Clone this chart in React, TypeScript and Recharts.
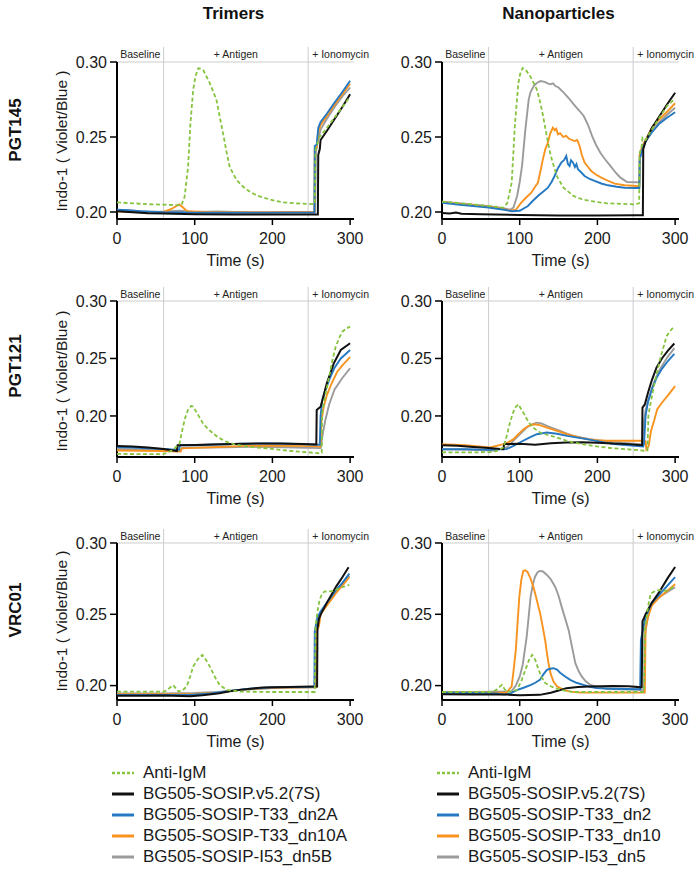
import React from 'react';
import { LineChart, Line, XAxis, YAxis, ReferenceLine, ReferenceArea } from 'recharts';

type Pair = [number, number];

const columnTitles = ['Trimers', 'Nanoparticles'];
const rowTitles = ['PGT145', 'PGT121', 'VRC01'];
const yAxisTitle = 'Indo-1 ( Violet/Blue )';
const xAxisTitle = 'Time (s)';
const yTicks = [0.2, 0.25, 0.3];
const xTicks = [0, 100, 200, 300];
const phaseMarks = [60, 246];
const phaseLabels = ['Baseline', '+ Antigen', '+ Ionomycin'];
const legendTrimers = ['Anti-IgM', 'BG505-SOSIP.v5.2(7S)', 'BG505-SOSIP-T33_dn2A', 'BG505-SOSIP-T33_dn10A', 'BG505-SOSIP-I53_dn5B'];
const legendNano = ['Anti-IgM', 'BG505-SOSIP.v5.2(7S)', 'BG505-SOSIP-T33_dn2', 'BG505-SOSIP-T33_dn10', 'BG505-SOSIP-I53_dn5'];

// ---------- Trimers / PGT145 ----------
const triPGT145_antiIgM: Pair[] = [[0,0.2064],[20,0.2058],[40,0.2052],[60,0.2049],[75,0.2046],[83,0.2046],[87,0.2102],[91.5,0.2302],[94.5,0.2591],[98,0.2813],[101,0.2905],[104.5,0.2958],[108,0.2955],[111,0.2945],[115,0.2905],[119.5,0.2858],[124,0.28],[128,0.2747],[132,0.264],[136.5,0.2524],[141,0.24],[145,0.2302],[150,0.225],[154,0.2213],[162,0.217],[171,0.2135],[180,0.211],[192,0.2091],[203,0.2075],[214,0.2064],[230,0.2058],[252,0.2053],[254.5,0.2055],[255.5,0.2413],[259,0.248],[261,0.2502],[270,0.256],[280,0.263],[290,0.27],[299,0.2762]];
const triPGT145_v52: Pair[] = [[0,0.2005],[20,0.1998],[40,0.1992],[60,0.199],[100,0.1985],[150,0.1983],[200,0.1983],[250,0.1984],[258.5,0.1984],[259,0.238],[261,0.242],[262,0.248],[270,0.254],[280,0.262],[290,0.27],[300,0.2785]];
const triPGT145_dn2A: Pair[] = [[0,0.2015],[15,0.2012],[30,0.2005],[50,0.2],[60,0.1998],[80,0.1997],[100,0.1995],[150,0.1995],[200,0.1996],[254,0.1997],[254.5,0.244],[257,0.245],[259,0.256],[262,0.26],[270,0.2655],[280,0.273],[290,0.28],[300,0.2875]];
const triPGT145_dn10A: Pair[] = [[0,0.2005],[30,0.2],[60,0.2],[70,0.202],[80,0.205],[85,0.203],[90,0.2005],[120,0.1998],[200,0.1998],[254,0.1998],[254.5,0.242],[257,0.243],[259,0.253],[262,0.258],[270,0.264],[280,0.2715],[290,0.2785],[300,0.2855]];
const triPGT145_dn5B: Pair[] = [[0,0.201],[20,0.2008],[40,0.2002],[60,0.2003],[80,0.2008],[100,0.2],[130,0.2004],[160,0.1998],[190,0.1995],[220,0.2],[255,0.2002],[256,0.24],[259,0.248],[262,0.255],[270,0.262],[280,0.27],[290,0.277],[300,0.283]];

// ---------- Nanoparticles / PGT145 ----------
const nanoPGT145_antiIgM: Pair[] = [[0,0.2069],[20,0.206],[40,0.205],[60,0.204],[79,0.2029],[84,0.206],[89.7,0.2195],[94,0.2595],[98.3,0.286],[101,0.293],[103.8,0.296],[108,0.2945],[113.3,0.2907],[118,0.286],[121.9,0.2818],[125,0.276],[128.4,0.2684],[131.5,0.26],[134.8,0.2507],[138,0.242],[141.3,0.2351],[147.7,0.224],[156.3,0.2162],[169.2,0.2107],[180,0.2085],[190.6,0.2073],[212,0.2058],[246.4,0.2051],[253.7,0.2058],[254.5,0.2395],[257,0.244],[258,0.2495],[262,0.248],[270,0.255],[280,0.263],[290,0.271],[300,0.2755]];
const nanoPGT145_v52: Pair[] = [[0,0.1993],[10,0.199],[18,0.1996],[25,0.1988],[50,0.1985],[100,0.198],[150,0.1977],[200,0.1977],[250,0.1978],[258.5,0.1978],[259,0.242],[262,0.247],[270,0.256],[280,0.264],[290,0.272],[300,0.2795]];
const nanoPGT145_dn2: Pair[] = [[0,0.2062],[20,0.205],[40,0.204],[60,0.203],[80,0.2015],[90,0.2005],[100,0.2008],[110.6,0.204],[117,0.2075],[123.4,0.2107],[130,0.2135],[136.3,0.2162],[141,0.22],[144.9,0.224],[149,0.229],[153.5,0.2329],[157,0.2345],[159.9,0.2373],[162,0.232],[164.2,0.2307],[166,0.2345],[168.5,0.233],[171,0.23],[173,0.232],[174.9,0.2285],[178,0.227],[183.5,0.224],[190,0.222],[196.4,0.2207],[205,0.219],[213.6,0.2178],[225,0.2168],[235.1,0.2162],[250.8,0.216],[254,0.216],[254.5,0.235],[258,0.242],[262,0.247],[270,0.253],[280,0.259],[290,0.263],[300,0.2665]];
const nanoPGT145_dn10: Pair[] = [[0,0.2065],[20,0.2055],[40,0.2045],[60,0.2035],[80,0.2018],[88,0.2008],[95,0.2015],[102,0.2062],[108,0.2095],[114.9,0.2129],[120,0.217],[123.4,0.2195],[127,0.228],[129.8,0.2351],[133,0.242],[136.3,0.2462],[139,0.252],[142.7,0.2562],[145,0.2545],[147,0.2555],[149.2,0.2518],[152,0.2525],[156,0.25],[159.9,0.2507],[163,0.249],[167,0.248],[170.6,0.2473],[174,0.248],[177.1,0.244],[180,0.238],[183.5,0.2329],[188,0.23],[192.1,0.2273],[198,0.225],[205,0.2229],[213,0.221],[222.2,0.2189],[235,0.2178],[250.8,0.2173],[254,0.2172],[254.5,0.238],[258,0.244],[262,0.248],[270,0.256],[280,0.262],[290,0.267],[300,0.2725]];
const nanoPGT145_dn5: Pair[] = [[0,0.2069],[20,0.2058],[40,0.2048],[60,0.2038],[79,0.2025],[88,0.2015],[92,0.203],[96.7,0.2107],[100,0.22],[103,0.2307],[107.3,0.2551],[111.6,0.2751],[114,0.28],[118,0.284],[122,0.286],[126.6,0.2873],[132,0.2868],[136,0.2858],[139.4,0.2851],[143,0.2858],[146,0.284],[150,0.283],[156.6,0.2796],[163,0.276],[169.5,0.2718],[176,0.268],[182.4,0.264],[188,0.258],[193.1,0.2507],[198,0.245],[203.8,0.2395],[210,0.235],[216.7,0.2307],[223,0.2265],[229.6,0.2229],[238.2,0.22],[250,0.2198],[254,0.2198],[254.5,0.238],[258,0.244],[262,0.248],[270,0.254],[280,0.26],[290,0.265],[300,0.2695]];

// ---------- Trimers / PGT121 ----------
const triPGT121_antiIgM: Pair[] = [[0,0.167],[30,0.1668],[60,0.1668],[72,0.1704],[80.6,0.1762],[84.9,0.1907],[88,0.199],[91.3,0.2052],[95.6,0.2087],[98,0.208],[102,0.2037],[106,0.199],[110.6,0.1936],[116,0.1895],[123.4,0.1849],[131,0.181],[140.6,0.1776],[150,0.1755],[162,0.1739],[175,0.1728],[192,0.1719],[210,0.1705],[235,0.1689],[260.6,0.1675],[263.5,0.168],[264,0.2023],[268,0.218],[273,0.234],[277,0.248],[281.5,0.2603],[286,0.268],[290,0.2733],[295,0.276],[300,0.2777]];
const triPGT121_v52: Pair[] = [[0,0.1739],[20,0.1735],[40,0.1725],[60,0.1712],[77,0.1695],[78,0.1745],[100,0.1748],[120,0.1752],[150,0.1755],[180,0.176],[210,0.176],[240,0.1755],[256.5,0.1752],[257,0.2052],[262,0.208],[266,0.218],[270,0.2284],[279,0.2458],[288,0.2574],[300,0.2632]];
const triPGT121_dn2A: Pair[] = [[0,0.173],[20,0.1725],[40,0.1718],[60,0.1712],[80,0.1705],[81,0.1745],[100,0.1745],[130,0.1752],[160,0.1758],[190,0.176],[220,0.1758],[250,0.1752],[261,0.175],[262,0.2],[264,0.213],[268,0.222],[274,0.233],[280,0.242],[288,0.25],[300,0.2574]];
const triPGT121_dn10A: Pair[] = [[0,0.17],[30,0.1698],[60,0.1695],[82,0.169],[83,0.1718],[100,0.1722],[130,0.173],[160,0.1738],[190,0.1742],[220,0.174],[250,0.1738],[262,0.1735],[263,0.195],[266,0.208],[270,0.218],[276,0.228],[283,0.238],[290,0.244],[300,0.2511]];
const triPGT121_dn5B: Pair[] = [[0,0.1712],[30,0.1708],[60,0.1705],[82,0.17],[84,0.1722],[110,0.1725],[140,0.1728],[170,0.1732],[200,0.173],[230,0.1725],[262,0.172],[263,0.176],[265,0.185],[268,0.196],[273,0.21],[280,0.223],[290,0.233],[300,0.2415]];

// ---------- Nanoparticles / PGT121 ----------
const nanoPGT121_antiIgM: Pair[] = [[0,0.1683],[30,0.1683],[61.8,0.1685],[70,0.1695],[79,0.1726],[83,0.182],[87.5,0.1942],[91,0.202],[94,0.2073],[98.3,0.2101],[101,0.207],[104.7,0.2029],[109,0.1975],[113.3,0.1928],[119,0.189],[126.2,0.1856],[137,0.1832],[147.6,0.1813],[158,0.179],[169,0.1769],[185,0.175],[199,0.1735],[218,0.172],[237.7,0.1711],[261.3,0.1697],[264.5,0.17],[265.6,0.2],[267.7,0.2087],[274,0.23],[280.6,0.2492],[289,0.2694],[295,0.275],[299,0.278]];
const nanoPGT121_v52: Pair[] = [[0,0.1746],[20,0.174],[40,0.173],[60,0.1722],[79,0.1711],[80,0.1755],[100,0.1758],[120,0.175],[140,0.1762],[160,0.177],[180,0.1772],[200,0.1768],[220,0.176],[240,0.1755],[257.5,0.1746],[258,0.2073],[261,0.21],[265,0.22],[270,0.231],[276,0.242],[283,0.25],[291,0.257],[299,0.263]];
const nanoPGT121_dn2: Pair[] = [[0,0.1711],[30,0.1711],[60,0.1705],[83,0.1711],[92,0.174],[100,0.1769],[113,0.1813],[122,0.1841],[135,0.1856],[148,0.1845],[161,0.1827],[186,0.1798],[205,0.1775],[221,0.1755],[240,0.1745],[259,0.1735],[260,0.176],[262,0.2],[265,0.212],[270,0.223],[276,0.233],[283,0.241],[291,0.248],[299,0.254]];
const nanoPGT121_dn10: Pair[] = [[0,0.1755],[30,0.1745],[62,0.1726],[79,0.1755],[85,0.177],[92,0.1798],[98,0.184],[105,0.1885],[111,0.1912],[118,0.1928],[126,0.192],[135,0.1899],[148,0.187],[161,0.1841],[173,0.182],[186,0.1798],[199,0.179],[212,0.1784],[235,0.1784],[259,0.1784],[262,0.178],[263,0.171],[266,0.174],[269,0.187],[273,0.196],[277,0.2058],[283,0.2115],[290,0.2173],[300,0.226]];
const nanoPGT121_dn5: Pair[] = [[0,0.1711],[30,0.1708],[66,0.17],[83,0.1726],[90,0.177],[96,0.1813],[103,0.186],[109,0.1899],[115,0.1925],[122,0.1942],[128,0.1935],[135,0.1913],[144,0.189],[152,0.187],[160,0.1848],[169,0.1827],[180,0.181],[190.5,0.1798],[212,0.1778],[235,0.1765],[255,0.1755],[258,0.1752],[259,0.19],[262,0.205],[266,0.215],[272,0.228],[280,0.24],[290,0.251],[299,0.259]];

// ---------- Trimers / VRC01 ----------
const triVRC01_antiIgM: Pair[] = [[0,0.1958],[30,0.1958],[60,0.1958],[64,0.1965],[68,0.1985],[72.2,0.2003],[76,0.198],[79,0.1958],[84,0.1965],[89.6,0.1993],[94,0.206],[98,0.2133],[104,0.2185],[109.8,0.2215],[114,0.2185],[119.5,0.2133],[126,0.206],[132,0.2005],[141,0.197],[158,0.1958],[200,0.1955],[254.5,0.1955],[255.5,0.2414],[258,0.252],[260.7,0.2601],[264,0.2645],[267,0.2659],[278,0.2663],[286,0.2683],[299,0.2706]];
const triVRC01_v52: Pair[] = [[0,0.1928],[30,0.1928],[60,0.193],[94,0.1925],[110,0.1932],[132,0.1947],[145,0.196],[158,0.197],[175,0.198],[188,0.1986],[220,0.199],[252,0.1993],[257.5,0.1993],[258,0.24],[260,0.247],[263,0.2508],[270,0.258],[282,0.2694],[290,0.276],[298,0.283]];
const triVRC01_dn2A: Pair[] = [[0,0.1935],[60,0.1935],[94,0.1935],[120,0.1945],[145,0.1962],[170,0.1978],[200,0.1988],[254,0.1992],[254.5,0.238],[258,0.248],[262,0.252],[270,0.258],[282,0.267],[290,0.272],[299,0.2785]];
const triVRC01_dn10A: Pair[] = [[0,0.194],[60,0.194],[100,0.1942],[130,0.195],[160,0.1972],[200,0.1985],[256,0.199],[257,0.238],[260,0.242],[262,0.25],[270,0.256],[282,0.265],[290,0.27],[299,0.276]];
const triVRC01_dn5B: Pair[] = [[0,0.1945],[60,0.1945],[100,0.1948],[130,0.1955],[160,0.197],[200,0.1982],[256,0.1988],[257,0.24],[261,0.25],[270,0.258],[282,0.266],[290,0.271],[299,0.277]];

// ---------- Nanoparticles / VRC01 ----------
const nanoVRC01_antiIgM: Pair[] = [[0,0.1955],[40,0.1955],[62,0.1955],[70,0.197],[77,0.2005],[80,0.198],[83.5,0.1955],[90,0.196],[96.5,0.197],[102,0.203],[107.3,0.211],[112,0.218],[116,0.2215],[120,0.218],[124.5,0.211],[128,0.206],[133,0.2017],[140,0.1995],[146,0.1982],[155,0.1968],[169.6,0.1955],[220,0.1955],[260,0.1955],[261,0.2389],[265,0.255],[268.5,0.2646],[277,0.2669],[290,0.2665],[300,0.27]];
const nanoVRC01_v52: Pair[] = [[0,0.194],[40,0.1938],[83,0.1937],[100,0.1932],[126,0.1935],[140,0.195],[150,0.1965],[160,0.1982],[175,0.199],[190,0.1993],[205,0.1996],[220,0.1998],[240,0.1995],[257,0.1988],[258,0.245],[262,0.25],[270,0.258],[280,0.266],[290,0.275],[300,0.2832]];
const nanoVRC01_dn2: Pair[] = [[0,0.195],[40,0.1948],[70,0.1945],[80,0.1937],[88,0.1945],[97,0.197],[105,0.1985],[114.5,0.2005],[120,0.202],[126,0.204],[130,0.2075],[135,0.211],[139,0.2118],[143.5,0.2122],[148,0.2112],[152,0.209],[158,0.2065],[165,0.204],[173,0.202],[182,0.2005],[190,0.1992],[199,0.1982],[220,0.1978],[255,0.1975],[256,0.232],[259,0.24],[262,0.248],[270,0.258],[280,0.264],[290,0.27],[300,0.276]];
const nanoVRC01_dn10: Pair[] = [[0,0.1951],[40,0.1951],[83,0.1951],[89.6,0.1993],[92,0.21],[95,0.225],[97,0.242],[99.5,0.2622],[102,0.274],[104.6,0.2804],[107,0.2808],[110,0.2797],[114,0.275],[117.7,0.2692],[122,0.26],[126.3,0.2506],[130,0.24],[132.7,0.232],[135,0.223],[137,0.2157],[140,0.208],[143.5,0.2028],[148,0.1995],[156.4,0.197],[165,0.1958],[178,0.1951],[220,0.1951],[261,0.1951],[262,0.24],[265,0.248],[270,0.256],[280,0.262],[290,0.2665],[300,0.2711]];
const nanoVRC01_dn5: Pair[] = [[0,0.1955],[40,0.1955],[89.6,0.196],[95,0.2],[100,0.2063],[104,0.215],[109,0.2343],[111.5,0.248],[114,0.2622],[117,0.271],[119.6,0.2762],[123,0.2795],[126,0.2804],[130,0.28],[135,0.2776],[140,0.2745],[145.7,0.2692],[150,0.263],[154,0.2552],[158,0.248],[163,0.2389],[167,0.228],[171.6,0.2157],[176,0.21],[180,0.2063],[185,0.203],[191,0.2005],[200,0.199],[212.5,0.1975],[240,0.1972],[255.5,0.1971],[260,0.1965],[261,0.235],[264,0.245],[268,0.255],[275,0.26],[285,0.264],[300,0.269]];

// y-axis ranges of each row (value at plot bottom, value at plot top)
const rowDomains: [number, number][] = [[0.19533, 0.31], [0.1643, 0.31217], [0.1899, 0.3098]];

const panelSeries: Pair[][][][] = [
  [
    [triPGT145_antiIgM, triPGT145_v52, triPGT145_dn2A, triPGT145_dn10A, triPGT145_dn5B],
    [nanoPGT145_antiIgM, nanoPGT145_v52, nanoPGT145_dn2, nanoPGT145_dn10, nanoPGT145_dn5],
  ],
  [
    [triPGT121_antiIgM, triPGT121_v52, triPGT121_dn2A, triPGT121_dn10A, triPGT121_dn5B],
    [nanoPGT121_antiIgM, nanoPGT121_v52, nanoPGT121_dn2, nanoPGT121_dn10, nanoPGT121_dn5],
  ],
  [
    [triVRC01_antiIgM, triVRC01_v52, triVRC01_dn2A, triVRC01_dn10A, triVRC01_dn5B],
    [nanoVRC01_antiIgM, nanoVRC01_v52, nanoVRC01_dn2, nanoVRC01_dn10, nanoVRC01_dn5],
  ],
];

// ---------- styling / layout ----------
const FONT = '"Liberation Sans", Arial, Helvetica, sans-serif';
const TEXT = '#1a1a1a';
const GRID = '#cccccc';
const seriesStyles = [
  { color: '#86C440', width: 1.8, dash: '4 2.5' },
  { color: '#111111', width: 2, dash: undefined },
  { color: '#2479C2', width: 1.9, dash: undefined },
  { color: '#F7931E', width: 1.9, dash: undefined },
  { color: '#9B9B9B', width: 1.9, dash: undefined },
];
const drawOrder = [4, 3, 2, 1, 0];

const rowPlotTop = [47, 287, 529];
const rowPlotH = [172, 170, 171];
const colLayout = [
  { left: 0, width: 370, margin: { top: 10, right: 16, left: 57, bottom: 0 } },
  { left: 370, width: 326, margin: { top: 10, right: 17, left: 12, bottom: 0 } },
];

const toPts = (a: Pair[]) => a.map(([t, v]) => ({ t, v }));

function Panel({ row, col }: { row: number; col: number }) {
  const [y0, y1] = rowDomains[row];
  const lay = colLayout[col];
  const plotH = rowPlotH[row];
  const series = panelSeries[row][col];
  const bandLabel = { fontSize: 10.5, fill: '#222', fontFamily: FONT };
  return (
    <div style={{ position: 'absolute', left: lay.left, top: rowPlotTop[row] - 10 }}>
      <LineChart width={lay.width} height={10 + plotH + 50} margin={lay.margin}>
        <XAxis
          type="number"
          dataKey="t"
          domain={[0, 305]}
          ticks={xTicks}
          allowDataOverflow
          axisLine={{ stroke: '#000', strokeWidth: 2 }}
          tickLine={{ stroke: '#000', strokeWidth: 1.5 }}
          tickSize={6}
          tickMargin={8}
          height={50}
          tick={{ fontSize: 16, fill: TEXT, fontFamily: FONT }}
          label={{ value: xAxisTitle, position: 'insideBottom', offset: 3, fontSize: 16, fill: TEXT, fontFamily: FONT }}
        />
        <YAxis
          type="number"
          domain={[y0, y1]}
          ticks={yTicks}
          allowDataOverflow
          axisLine={false}
          tickLine={{ stroke: '#000', strokeWidth: 1.5 }}
          tickSize={7}
          tickMargin={3}
          width={60}
          tickFormatter={(v: number) => v.toFixed(2)}
          tick={{ fontSize: 16, fill: TEXT, fontFamily: FONT }}
        />
        <ReferenceLine y={0.3} stroke={GRID} strokeWidth={1} />
        {phaseMarks.map((x) => (
          <ReferenceLine key={x} x={x} stroke={GRID} strokeWidth={1} />
        ))}
        <ReferenceArea x1={0} x2={phaseMarks[0]} y1={0.3} y2={y1} fillOpacity={0} strokeOpacity={0}
          label={{ value: phaseLabels[0], position: 'center', ...bandLabel }} />
        <ReferenceArea x1={phaseMarks[0]} x2={phaseMarks[1]} y1={0.3} y2={y1} fillOpacity={0} strokeOpacity={0}
          label={{ value: phaseLabels[1], position: 'center', ...bandLabel }} />
        <ReferenceArea x1={phaseMarks[1]} x2={305} y1={0.3} y2={y1} fillOpacity={0} strokeOpacity={0}
          label={{ value: phaseLabels[2], position: 'insideLeft', offset: 4, ...bandLabel }} />
        <ReferenceLine segment={[{ x: 0, y: y0 }, { x: 0, y: 0.3 }]} stroke="#000" strokeWidth={2} />
        {drawOrder.map((i) => (
          <Line
            key={i}
            data={toPts(series[i])}
            dataKey="v"
            type="linear"
            stroke={seriesStyles[i].color}
            strokeWidth={seriesStyles[i].width}
            strokeDasharray={seriesStyles[i].dash}
            dot={false}
            activeDot={false}
            isAnimationActive={false}
          />
        ))}
      </LineChart>
    </div>
  );
}

function Legend({ names, left, top }: { names: string[]; left: number; top: number }) {
  return (
    <div style={{ position: 'absolute', left, top }}>
      {names.map((name, i) => (
        <div key={name} style={{ position: 'absolute', left: 0, top: i * 21, height: 20, whiteSpace: 'nowrap', display: 'flex', alignItems: 'center' }}>
          <svg width={22} height={20} style={{ display: 'block' }}>
            <line x1={0} y1={10} x2={22} y2={10} stroke={seriesStyles[i].color} strokeWidth={i === 0 ? 2.5 : 3}
              strokeDasharray={i === 0 ? '3 2' : undefined} />
          </svg>
          <span style={{ marginLeft: 9, fontSize: 17, lineHeight: '20px', color: TEXT }}>{name}</span>
        </div>
      ))}
    </div>
  );
}

export default function App() {
  const yLabelCenters = [140.5, 381, 621];
  const rowLabelCenters = [130, 366, 610];
  return (
    <div style={{ position: 'relative', width: 696, height: 870, background: '#fff', fontFamily: FONT, overflow: 'hidden' }}>
      <style>{'body{margin:0;background:#fff}'}</style>
      {columnTitles.map((t, i) => (
        <div key={t} style={{ position: 'absolute', left: i === 0 ? 233.5 : 558.5, top: 14, transform: 'translate(-50%,-50%)', fontWeight: 'bold', fontSize: 17, color: '#111', whiteSpace: 'nowrap' }}>{t}</div>
      ))}
      {rowTitles.map((t, i) => (
        <div key={t} style={{ position: 'absolute', left: 16, top: rowLabelCenters[i], transform: 'translate(-50%,-50%) rotate(-90deg)', fontWeight: 'bold', fontSize: 17, color: '#111', whiteSpace: 'nowrap' }}>{t}</div>
      ))}
      {yLabelCenters.map((c, i) => (
        <div key={i} style={{ position: 'absolute', left: 61.7, top: c, transform: 'translate(-50%,-50%) rotate(-90deg)', fontSize: 15.5, color: TEXT, whiteSpace: 'nowrap' }}>{yAxisTitle}</div>
      ))}
      {[0, 1, 2].map((r) => (
        <React.Fragment key={r}>
          <Panel row={r} col={0} />
          <Panel row={r} col={1} />
        </React.Fragment>
      ))}
      <Legend names={legendTrimers} left={112} top={763} />
      <Legend names={legendNano} left={437} top={763} />
    </div>
  );
}
